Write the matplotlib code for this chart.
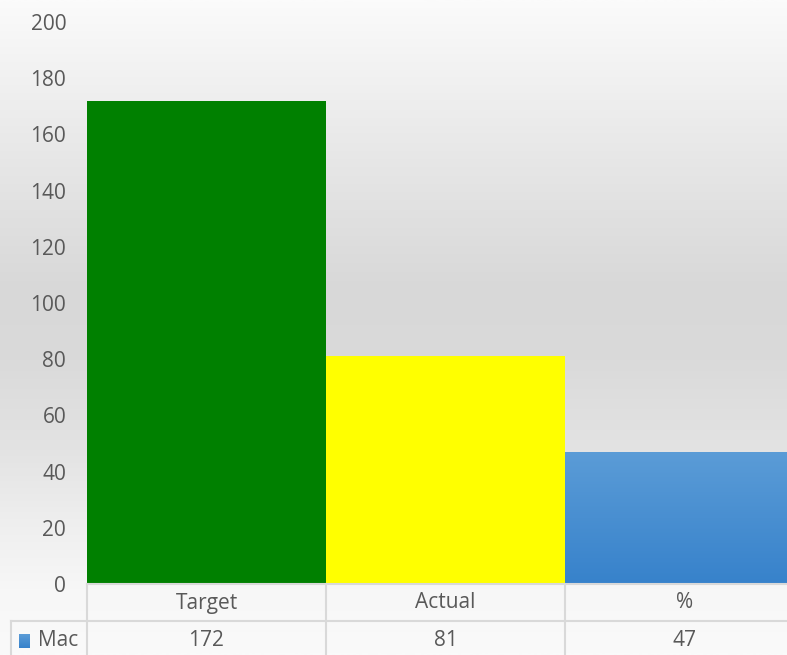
import numpy as np
import matplotlib
matplotlib.use("Agg")
import matplotlib.pyplot as plt
from matplotlib.colors import LinearSegmentedColormap

plt.rcParams["font.family"] = ["Open Sans", "DejaVu Sans"]

# ----------------------------------------
# Data
# ----------------------------------------
categories = ["Target", "Actual", "%"]
values = [172, 81, 47]
series_name = "Mac"
y_ticks = [0, 20, 40, 60, 80, 100, 120, 140, 160, 180, 200]

text_grey = "#595959"
grid_grey = "#d9d9d9"
fsize = 15

W, H = 787, 655
fig = plt.figure(figsize=(W / 100, H / 100), dpi=100)

def fx(x):
    return x / W

def fy(y):
    return 1 - y / H

# ----------------------------------------
# Background gradient (light - grey - light)
# ----------------------------------------
bg = fig.add_axes([0, 0, 1, 1], zorder=-5)
stops = [(0.0, "#fbfbfb"), (100 / H, "#eeeeee"), (200 / H, "#e2e2e2"),
         (290 / H, "#d8d8d8"), (360 / H, "#dadada"), (450 / H, "#e3e3e3"),
         (520 / H, "#eeeeee"), (590 / H, "#f7f7f7"), (1.0, "#fafafa")]
bg_cmap = LinearSegmentedColormap.from_list("bg", stops)
grad = np.linspace(0, 1, 512).reshape(-1, 1)
bg.imshow(grad, aspect="auto", cmap=bg_cmap, extent=[0, 1, 0, 1], origin="upper")
bg.set_axis_off()

# ----------------------------------------
# Main bar axes
# ----------------------------------------
left, right, top, bottom = 87, 787, 22, 584
ax = fig.add_axes([fx(left), fy(bottom), fx(right - left), fy(top) - fy(bottom)])
ax.patch.set_alpha(0)

cat_w = 239.0  # px per category
xs = np.arange(len(values)) + 0.5
colors = ["#008000", "#ffff00", "#4a90d4"]
bars = ax.bar(xs, values, width=1.0, color=colors, edgecolor="none")

# blue gradient on the last bar
blue_cmap = LinearSegmentedColormap.from_list("blue", ["#3782cb", "#5b9cd7"])
b = bars[2]
gimg = ax.imshow(np.linspace(0, 1, 256).reshape(-1, 1), cmap=blue_cmap, aspect="auto",
                 origin="lower", zorder=3,
                 extent=[b.get_x(), b.get_x() + b.get_width(), 0, b.get_height()])
gimg.set_clip_path(b)

ax.set_xlim(0, (right - left) / cat_w)
ax.set_ylim(0, 200)
ax.set_yticks(y_ticks)
ax.set_xticks([])
ax.tick_params(axis="y", length=0, pad=15, labelsize=fsize, labelcolor=text_grey)
for s in ["top", "right", "left"]:
    ax.spines[s].set_visible(False)
ax.spines["bottom"].set_color(grid_grey)
ax.spines["bottom"].set_linewidth(1.5)
ax.spines["bottom"].set_zorder(4)

# ----------------------------------------
# Data table below the plot
# ----------------------------------------
row_mid = 621
def hline(y, x0, x1):
    fig.add_artist(plt.Line2D([fx(x0), fx(x1)], [fy(y), fy(y)], color=grid_grey, lw=1.5))

def vline(x, y0, y1):
    fig.add_artist(plt.Line2D([fx(x), fx(x)], [fy(y0), fy(y1)], color=grid_grey, lw=1.5))

hline(row_mid, 11, W)
vline(11, row_mid, H)
for i in range(len(categories)):
    vline(left + i * cat_w, bottom, H)

for i, (c, v) in enumerate(zip(categories, values)):
    cx = left + (i + 0.5) * cat_w
    fig.text(fx(cx), fy(603), c, ha="center", va="center", fontsize=fsize, color=text_grey)
    fig.text(fx(cx), fy(640), str(v), ha="center", va="center", fontsize=fsize, color=text_grey)

# legend key
key = fig.add_axes([fx(19), fy(648), fx(11), fy(634) - fy(648)])
key.imshow(np.linspace(0, 1, 32).reshape(-1, 1), cmap=blue_cmap, aspect="auto", origin="lower")
key.set_axis_off()
fig.text(fx(38), fy(640), series_name, ha="left", va="center", fontsize=fsize, color=text_grey)

fig.savefig("out.png", dpi=100)
